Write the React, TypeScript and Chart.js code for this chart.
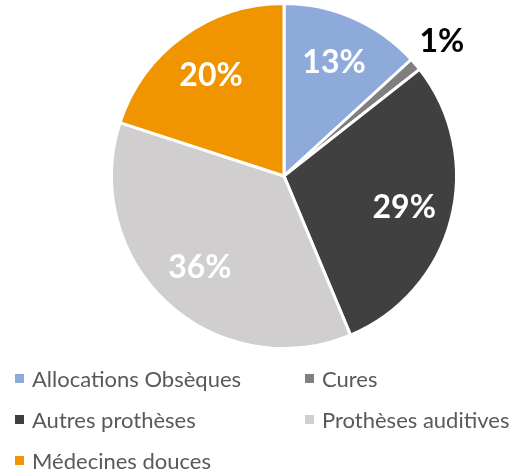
import React, { useEffect, useRef } from "react";
import { Chart, registerables } from "chart.js";

Chart.register(...registerables);

const categories = [
  "Allocations Obsèques",
  "Cures",
  "Autres prothèses",
  "Prothèses auditives",
  "Médecines douces",
];
const values = [13.2, 1.2, 29.3, 36.3, 20.0];
const colors = ["#8eaadb", "#7f7f7f", "#404040", "#d0cece", "#f09400"];

const labelFont = "bold 32px Lato, 'Open Sans', sans-serif";

const labelPlugin = {
  id: "sliceLabels",
  afterDatasetsDraw(chart: any) {
    const ctx = chart.ctx;
    const meta = chart.getDatasetMeta(0);
    const data = chart.data.datasets[0].data as number[];
    const total = data.reduce((a, b) => a + b, 0);
    ctx.save();
    ctx.font = labelFont;
    ctx.textAlign = "center";
    ctx.textBaseline = "middle";
    meta.data.forEach((arc: any, i: number) => {
      const p = arc.getProps(["x", "y", "startAngle", "endAngle", "outerRadius"], true);
      const mid = (p.startAngle + p.endAngle) / 2;
      const pct = Math.round((data[i] / total) * 100);
      const outside = pct < 5;
      const r = outside ? p.outerRadius * 1.2 : p.outerRadius * 0.72;
      ctx.fillStyle = outside ? "#000000" : "#ffffff";
      ctx.fillText(pct + "%", p.x + Math.cos(mid) * r, p.y + Math.sin(mid) * r);
    });
    ctx.restore();
  },
};

export default function App() {
  const ref = useRef<HTMLCanvasElement>(null);
  useEffect(() => {
    if (!ref.current) return;
    const chart = new Chart(ref.current, {
      type: "pie",
      data: {
        labels: categories,
        datasets: [
          {
            data: values,
            backgroundColor: colors,
            borderColor: "#ffffff",
            borderWidth: 3,
          },
        ],
      },
      options: {
        responsive: false,
        animation: false,
        layout: { padding: { top: 2, bottom: 125, left: 110, right: 65 } },
        plugins: {
          legend: { display: false },
          tooltip: { enabled: false },
        },
      },
      plugins: [labelPlugin],
    });
    return () => chart.destroy();
  }, []);

  return (
    <div
      style={{
        position: "absolute",
        left: 0,
        top: 0,
        width: 523,
        height: 475,
        background: "#ffffff",
        fontFamily: "Lato, 'Open Sans', sans-serif",
      }}
    >
      <canvas ref={ref} width={523} height={475} style={{ position: "absolute", left: 0, top: 0 }} />
      {categories.map((c, i) => {
        const col = i % 2;
        const row = Math.floor(i / 2);
        return (
          <div
            key={c}
            style={{
              position: "absolute",
              left: 15 + col * 290,
              top: 378 + row * 41 - 14,
              height: 28,
              display: "flex",
              alignItems: "center",
              whiteSpace: "nowrap",
              color: "#595959",
              fontSize: 22,
            }}
          >
            <span
              style={{
                display: "inline-block",
                width: 9,
                height: 9,
                background: colors[i],
                marginRight: 8,
              }}
            />
            <span>{c}</span>
          </div>
        );
      })}
    </div>
  );
}
